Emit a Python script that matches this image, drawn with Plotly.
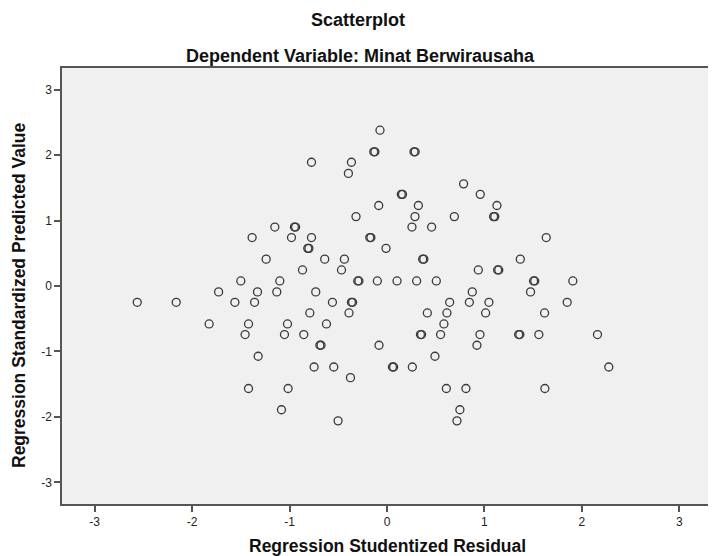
import plotly.graph_objects as go

# Regression Studentized Residual (x) and Regression Standardized Predicted Value (y)
residual = [
    -0.072, -0.136, -0.124, 0.277, 0.289, -0.775, -0.365, -0.396, 0.786, 0.147, 0.159, 0.957,
    -0.085, 0.322, 1.128, -0.318, 0.287, 0.691, 1.094, 1.106, -1.151, -0.950, -0.938, 0.256, 0.458,
    -1.384, -0.980, -0.775, -0.177, -0.165, 1.634, -0.813, -0.801, -0.010,
    -1.240, -0.639, -0.437, 0.366, 0.378, 1.368, -0.867, -0.467, 0.937, 1.135, 1.147,
    -1.500, -1.100, -0.300, -0.288, -0.099, 0.103, 0.304, 0.506, 1.504, 1.516, 1.907,
    -1.728, -1.329, -1.131, -0.731, 0.875, 1.473,
    -2.563, -2.163, -1.561, -1.359, -0.560, -0.365, -0.353, 0.643, 0.845, 1.046, 1.849,
    -0.792, -0.390, 0.414, 0.615, 1.012, 1.617,
    -1.825, -1.421, -1.021, -0.621, 0.584,
    -1.456, -1.052, -0.854, 0.343, 0.355, 0.550, 0.954, 1.351, 1.363, 1.558, 2.160,
    -0.689, -0.677, -0.082, 0.923,
    -1.322, 0.492,
    -0.748, -0.546, 0.056, 0.068, 0.260, 2.276,
    -0.375,
    -1.421, -1.015, 0.609, 0.810, 1.620,
    -1.083, 0.748,
    -0.502, 0.718,
]
predicted = [
    2.38, 2.05, 2.05, 2.05, 2.05, 1.89, 1.89, 1.72, 1.56, 1.40, 1.40, 1.40,
    1.23, 1.23, 1.23, 1.06, 1.06, 1.06, 1.06, 1.06, 0.90, 0.90, 0.90, 0.90, 0.90,
    0.74, 0.74, 0.74, 0.74, 0.74, 0.74, 0.575, 0.575, 0.575,
    0.41, 0.41, 0.41, 0.41, 0.41, 0.41, 0.245, 0.245, 0.245, 0.245, 0.245,
    0.077, 0.077, 0.077, 0.077, 0.077, 0.077, 0.077, 0.077, 0.077, 0.077, 0.077,
    -0.09, -0.09, -0.09, -0.09, -0.09, -0.09,
    -0.249, -0.249, -0.249, -0.249, -0.249, -0.249, -0.249, -0.249, -0.249, -0.249, -0.249,
    -0.412, -0.412, -0.412, -0.412, -0.412, -0.412,
    -0.58, -0.58, -0.58, -0.58, -0.58,
    -0.742, -0.742, -0.742, -0.742, -0.742, -0.742, -0.742, -0.742, -0.742, -0.742, -0.742,
    -0.905, -0.905, -0.905, -0.905,
    -1.073, -1.073,
    -1.237, -1.237, -1.237, -1.237, -1.237, -1.237,
    -1.40,
    -1.566, -1.566, -1.566, -1.566, -1.566,
    -1.89, -1.89,
    -2.06, -2.06,
]

tick_vals = [-3, -2, -1, 0, 1, 2, 3]
tick_text = ["-3", "-2", "-1", "0", "1", "2", "3"]

title_text = "Scatterplot"
subtitle_text = "Dependent Variable: Minat Berwirausaha"
x_title = "Regression Studentized Residual"
y_title = "Regression Standardized Predicted Value"

FONT = "Arial, 'Liberation Sans', sans-serif"

fig = go.Figure(
    go.Scatter(
        x=residual,
        y=predicted,
        mode="markers",
        marker=dict(
            symbol="circle-open",
            size=8,
            color="#3a3a3a",
            line=dict(color="#3a3a3a", width=1.3),
        ),
        hoverinfo="x+y",
    )
)

axis_common = dict(
    tickvals=tick_vals,
    ticktext=tick_text,
    ticks="outside",
    ticklen=6,
    tickwidth=1.5,
    tickcolor="#555555",
    showline=True,
    linecolor="#555555",
    linewidth=1.5,
    mirror=True,
    showgrid=False,
    zeroline=False,
    tickfont=dict(family=FONT, size=12, color="#222222"),
)

# the page body adds an 8 px margin, so the figure is sized to fit the window
fig.update_layout(
    width=708,
    height=548,
    margin=dict(l=54, r=3.5, t=60, b=51.7),
    paper_bgcolor="white",
    plot_bgcolor="#f0f0f0",
    showlegend=False,
    xaxis=dict(range=[-3.335, 3.335], **axis_common),
    yaxis=dict(range=[-3.33, 3.33], **axis_common),
    font=dict(family=FONT, color="#111111"),
    annotations=[
        dict(text=f"<b>{title_text}</b>", xref="paper", yref="paper", x=0.5, y=1,
             xshift=-29, yshift=48.5, showarrow=False,
             font=dict(family=FONT, size=18, color="#111111"),
             xanchor="center", yanchor="middle"),
        dict(text=f"<b>{subtitle_text}</b>", xref="paper", yref="paper", x=0.5, y=1,
             xshift=-27, yshift=12.5, showarrow=False,
             font=dict(family=FONT, size=18, color="#111111"),
             xanchor="center", yanchor="middle"),
        dict(text=f"<b>{x_title}</b>", xref="paper", yref="paper", x=0.5, y=0,
             yshift=-42, showarrow=False, font=dict(family=FONT, size=17.5, color="#111111"),
             xanchor="center", yanchor="middle"),
        dict(text=f"<b>{y_title}</b>", xref="paper", yref="paper", x=0, y=0.5,
             xshift=-43, yshift=-9, textangle=-90, showarrow=False,
             font=dict(family=FONT, size=17.5, color="#111111"),
             xanchor="center", yanchor="middle"),
    ],
)

fig.write_html("out.html")
